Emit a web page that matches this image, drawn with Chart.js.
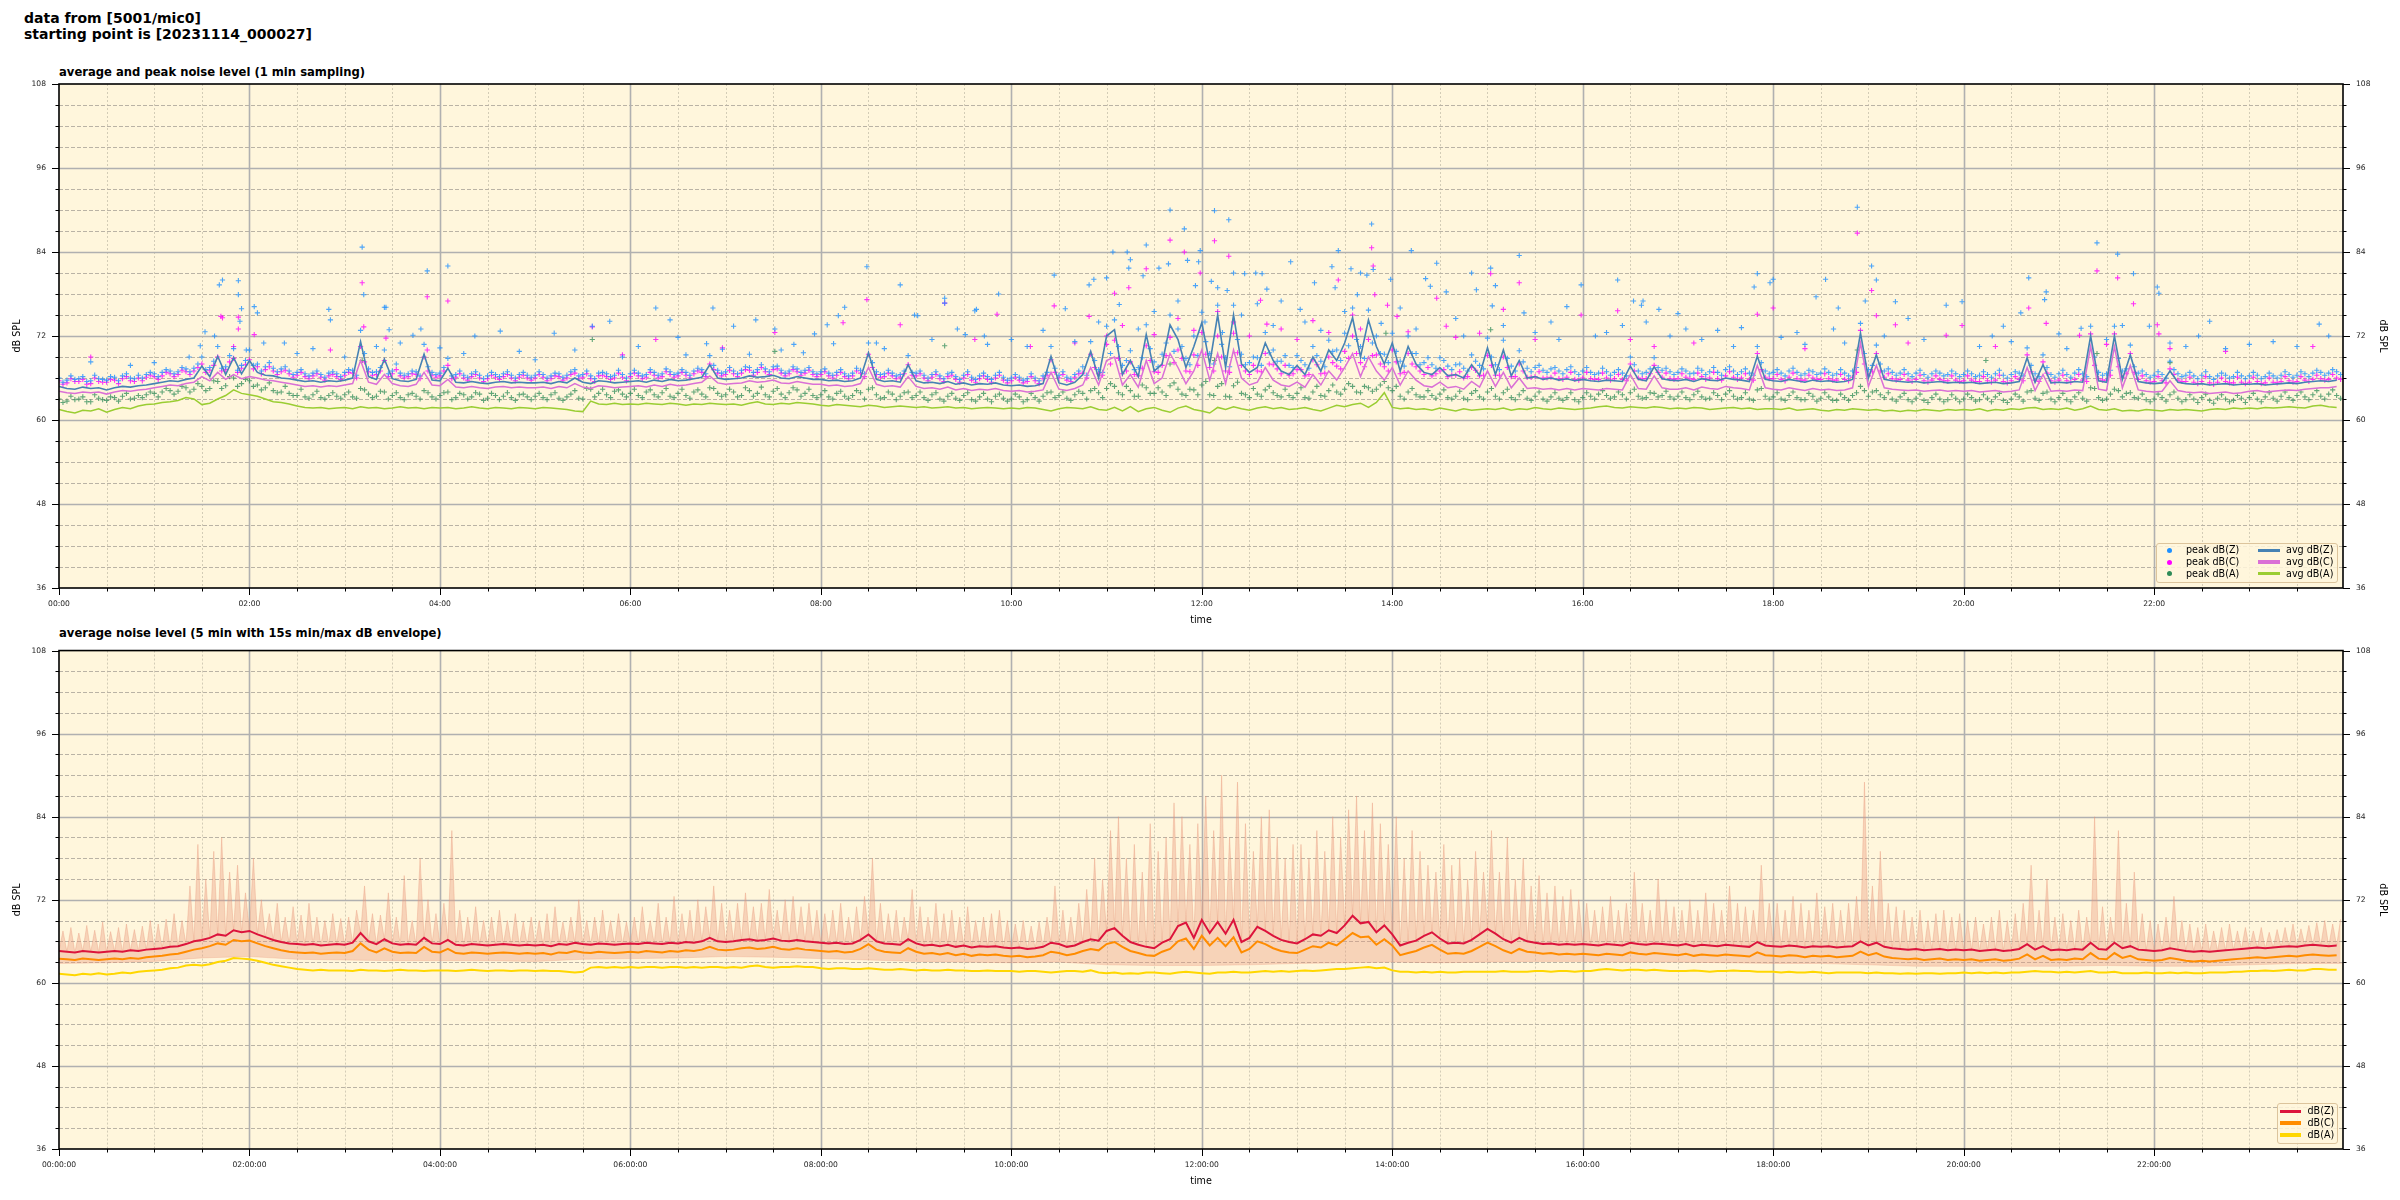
<!DOCTYPE html>
<html><head><meta charset="utf-8">
<script src="https://cdn.jsdelivr.net/npm/chart.js@4.4.0/dist/chart.umd.min.js"></script>
<style>
html,body{margin:0;padding:0;background:#fff;width:2400px;height:1200px;overflow:hidden;font-family:'DejaVu Sans',sans-serif;}
.t{position:absolute;white-space:nowrap;color:#000;}
#main{left:24px;top:10px;font-size:14px;font-weight:bold;line-height:16px;}
.sub{left:59px;font-size:11.6px;font-weight:bold;line-height:14px;}
canvas{position:absolute;left:0;}
.leg{position:absolute;border:1px solid #dcc49c;border-radius:3px;background:rgba(255,246,220,0.85);box-sizing:border-box;}
.lt{position:absolute;font-size:9.6px;line-height:12px;white-space:nowrap;color:#000;}
.dot{position:absolute;width:5px;height:5px;border-radius:50%;}
.ln{position:absolute;height:3.5px;}
</style></head>
<body>
<div class="t" id="main">data from [5001/mic0]<br>starting point is [20231114_000027]</div>
<div class="t sub" style="top:64.5px">average and peak noise level (1 min sampling)</div>
<div class="t sub" style="top:625.5px">average noise level (5 min with 15s min/max dB envelope)</div>
<canvas id="c1" width="2400" height="640" style="top:0;width:2400px;height:640px"></canvas>
<canvas id="c2" width="2400" height="560" style="top:640px;width:2400px;height:560px"></canvas>

<div class="leg" style="left:2156px;top:543px;width:182px;height:40px"></div>
<div class="dot" style="left:2166.5px;top:547.8px;background:#1e90ff"></div>
<div class="dot" style="left:2166.5px;top:559.5px;background:#ff00ff"></div>
<div class="dot" style="left:2166.5px;top:571.2px;background:#2e8b57"></div>
<div class="lt" style="left:2186px;top:544.3px">peak dB(Z)</div>
<div class="lt" style="left:2186px;top:556px">peak dB(C)</div>
<div class="lt" style="left:2186px;top:567.7px">peak dB(A)</div>
<div class="ln" style="left:2258px;top:548.5px;width:22px;background:#4682b4"></div>
<div class="ln" style="left:2258px;top:560.2px;width:22px;background:#da70d6"></div>
<div class="ln" style="left:2258px;top:571.9px;width:22px;background:#9acd32"></div>
<div class="lt" style="left:2286px;top:544.3px">avg dB(Z)</div>
<div class="lt" style="left:2286px;top:556px">avg dB(C)</div>
<div class="lt" style="left:2286px;top:567.7px">avg dB(A)</div>

<div class="leg" style="left:2277px;top:1103px;width:61px;height:41px"></div>
<div class="ln" style="left:2279.5px;top:1109.5px;width:21.5px;background:#dc143c"></div>
<div class="ln" style="left:2279.5px;top:1121.2px;width:21.5px;background:#ff8c00"></div>
<div class="ln" style="left:2279.5px;top:1133px;width:21.5px;background:#ffd700"></div>
<div class="lt" style="left:2307.5px;top:1105.3px">dB(Z)</div>
<div class="lt" style="left:2307.5px;top:1117px">dB(C)</div>
<div class="lt" style="left:2307.5px;top:1128.8px">dB(A)</div>

<script>
// ---------- tick labels ----------
const timeLabelsTop = ['00:00','02:00','04:00','06:00','08:00','10:00','12:00','14:00','16:00','18:00','20:00','22:00'];
const timeLabelsBottom = ['00:00:00','02:00:00','04:00:00','06:00:00','08:00:00','10:00:00','12:00:00','14:00:00','16:00:00','18:00:00','20:00:00','22:00:00'];
const dbTickLabels = [36,48,60,72,84,96,108];

// ---------- top chart: samples of the 1-min series every 5 min (dB SPL) ----------
const avgZ = [
64.8,64.5,64.4,64.7,64.5,64.6,64.3,64.6,64.8,64.7,64.9,65.0,
65.2,65.4,65.6,65.5,65.8,66.0,67.7,66.2,69.1,66.5,68.9,66.6,
68.5,66.8,66.4,66.3,66.0,65.9,65.7,65.5,65.6,65.4,65.6,65.5,
65.7,66.0,71.2,66.2,65.8,68.7,65.9,65.6,65.5,65.8,69.4,65.7,
65.6,67.4,65.4,65.3,65.5,65.3,65.2,65.4,65.5,65.3,65.4,65.3,
65.3,65.4,65.2,65.5,65.3,66.0,65.4,65.2,65.6,65.5,65.3,65.4,
65.5,65.6,65.4,65.7,65.5,65.8,65.6,65.7,65.9,66.1,67.9,66.0,
65.8,65.9,66.0,66.3,66.1,66.2,66.4,66.0,65.9,66.2,66.0,65.8,
65.8,65.6,65.7,65.5,65.6,66.0,69.6,65.8,65.5,65.6,65.4,67.9,
65.6,65.3,65.4,65.2,65.5,65.1,65.3,65.0,65.2,65.1,65.3,65.0,
64.9,65.0,64.8,64.9,65.2,69.1,65.3,65.0,65.4,66.5,69.8,66.0,
72.0,72.9,66.5,68.5,66.2,72.2,67.0,68.0,73.6,71.5,67.5,70.5,
73.9,68.0,75.0,67.5,75.0,68.0,66.8,67.5,71.0,68.5,67.0,66.5,
67.8,66.5,69.0,67.0,70.0,68.5,71.0,74.6,69.0,74.3,70.5,68.0,
71.0,67.0,70.5,68.0,66.8,66.5,67.5,66.3,66.5,66.0,67.9,66.4,
70.3,66.5,70.0,66.3,68.5,66.0,66.2,65.8,66.0,65.7,65.9,65.6,
65.8,65.6,65.5,65.7,65.6,65.5,67.7,65.8,65.6,67.6,65.9,65.7,
65.6,65.8,65.5,65.9,65.7,65.6,66.0,65.8,65.7,65.5,69.1,65.8,
65.6,65.5,65.8,65.6,65.4,65.7,65.5,65.6,65.4,65.5,65.8,72.4,
66.0,69.3,65.8,65.6,65.5,65.4,65.5,65.3,65.4,65.5,65.3,65.4,
65.3,65.4,65.2,65.3,65.4,65.2,65.3,65.5,68.9,65.4,67.9,65.3,
65.4,65.3,65.5,65.4,72.0,65.6,65.4,72.0,65.8,69.3,65.5,65.3,
65.2,65.3,67.0,65.4,65.2,65.1,65.2,65.0,65.1,65.2,65.0,65.1,
65.1,65.2,65.0,65.1,65.2,65.3,65.2,65.4,65.5,65.6,65.5,65.7];
const avgC = [
64.1,63.9,63.8,64.0,63.9,64.0,63.7,64.0,64.2,64.1,64.3,64.4,
64.6,64.8,65.0,64.9,65.2,65.4,66.2,65.6,66.8,65.8,66.5,65.9,
66.2,66.0,65.7,65.6,65.4,65.2,65.0,64.8,64.9,64.7,64.9,64.8,
65.0,65.2,68.5,65.4,65.1,66.5,65.2,64.9,64.8,65.1,66.8,65.0,
64.9,65.8,64.7,64.6,64.8,64.6,64.5,64.7,64.8,64.6,64.7,64.6,
64.6,64.7,64.5,64.8,64.6,65.2,64.7,64.5,64.9,64.8,64.6,64.7,
64.8,64.9,64.7,65.0,64.8,65.1,64.9,65.0,65.2,65.4,66.3,65.3,
65.1,65.2,65.3,65.6,65.4,65.5,65.7,65.3,65.2,65.5,65.3,65.1,
65.1,64.9,65.0,64.8,64.9,65.2,67.5,65.1,64.8,64.9,64.7,66.2,
64.8,64.5,64.6,64.4,64.7,64.3,64.5,64.2,64.4,64.3,64.5,64.2,
64.1,64.2,64.0,64.1,64.3,66.8,64.4,64.2,64.5,65.0,67.5,65.0,
68.5,69.0,65.0,66.5,64.7,68.5,65.2,66.0,69.5,67.5,65.2,67.0,
70.0,65.7,69.5,65.2,70.0,66.0,65.0,65.4,67.5,65.7,65.0,64.8,
65.4,64.7,66.5,65.0,67.0,65.7,67.5,69.5,66.2,69.0,67.0,65.7,
67.5,65.0,67.0,65.7,64.9,64.7,65.4,64.6,64.8,64.4,65.5,64.7,
67.0,64.8,66.8,64.6,66.0,64.5,64.6,64.4,64.5,64.3,64.5,64.3,
64.5,64.4,64.3,64.5,64.4,64.3,66.5,64.5,64.4,66.3,64.6,64.4,
64.4,64.6,64.3,64.7,64.5,64.4,64.8,64.6,64.5,64.3,67.8,64.6,
64.4,64.3,64.6,64.4,64.2,64.5,64.3,64.4,64.2,64.3,64.6,71.0,
64.8,67.8,64.6,64.4,64.3,64.2,64.3,64.1,64.2,64.3,64.1,64.2,
64.1,64.2,64.0,64.1,64.2,64.0,64.1,64.3,67.5,64.2,66.5,64.1,
64.2,64.1,64.3,64.2,70.5,64.4,64.2,70.5,64.6,67.8,64.3,64.1,
64.0,64.1,65.6,64.2,64.0,63.9,64.0,63.8,63.9,64.0,63.8,63.9,
64.1,64.2,64.0,64.1,64.2,64.3,64.2,64.4,64.5,64.6,64.6,64.8];
const avgA = [
61.5,61.2,61.0,61.4,61.3,61.6,61.1,61.5,61.8,61.6,62.0,62.2,
62.3,62.5,62.6,62.8,63.2,63.0,62.2,62.4,63.0,63.5,64.3,63.8,
63.6,63.4,63.0,62.6,62.5,62.3,62.0,61.8,61.7,61.8,61.6,61.7,
61.8,61.6,61.9,61.7,61.8,61.6,61.7,61.9,61.7,61.8,61.6,61.8,
61.7,61.8,61.6,61.7,61.9,61.7,61.6,61.8,61.7,61.6,61.8,61.7,
61.6,61.8,61.7,61.6,61.5,61.3,61.2,62.7,62.3,62.2,62.4,62.2,
62.3,62.2,62.4,62.3,62.2,62.4,62.3,62.1,62.3,62.2,62.4,62.3,
62.2,62.3,62.1,62.4,62.6,62.3,62.2,62.4,62.3,62.5,62.4,62.3,
62.1,62.0,62.2,62.1,62.0,61.9,62.1,62.0,61.8,61.9,62.0,61.9,
61.8,61.9,61.7,61.8,61.9,61.7,61.8,61.6,61.7,61.8,61.7,61.6,
61.7,61.6,61.8,61.7,61.5,61.3,61.6,61.8,61.7,61.6,61.9,61.5,
61.4,61.8,61.3,61.9,61.2,61.6,61.8,61.4,61.1,61.7,62.0,61.5,
61.3,61.0,61.8,61.5,61.9,61.6,61.4,61.7,61.9,61.6,61.8,61.5,
61.6,61.8,61.5,61.3,61.7,62.1,61.9,62.2,62.4,61.8,62.5,63.9,
61.8,61.6,61.7,61.5,61.6,61.4,61.7,61.5,61.3,61.6,61.4,61.5,
61.6,61.5,61.7,61.4,61.6,61.5,61.8,61.6,61.5,61.7,61.6,61.5,
61.6,61.7,61.9,62.0,61.8,61.7,61.9,61.8,61.7,61.9,61.8,61.6,
61.7,61.6,61.8,61.7,61.5,61.6,61.7,61.8,61.6,61.7,61.5,61.6,
61.6,61.5,61.7,61.4,61.5,61.6,61.4,61.3,61.5,61.4,61.6,61.5,
61.4,61.5,61.3,61.4,61.2,61.4,61.3,61.5,61.4,61.3,61.5,61.4,
61.5,61.4,61.6,61.3,61.5,61.4,61.6,61.5,61.7,61.8,61.5,61.6,
61.5,61.7,61.4,61.6,62.0,61.5,61.4,61.6,61.3,61.4,61.3,61.5,
61.4,61.3,61.5,61.4,61.5,61.4,61.3,61.5,61.6,61.5,61.7,61.6,
61.7,61.6,61.8,61.7,61.8,61.9,61.8,61.7,62.0,62.1,61.9,61.8];
// peak samples on the 5-min marks
const peakZ = [
66.0,65.7,65.8,66.2,65.6,65.9,65.7,66.1,66.3,66.0,66.4,66.5,
66.6,66.8,67.0,66.9,67.3,67.4,69.0,67.5,70.5,67.6,70.2,67.8,
70.0,68.0,67.6,67.4,67.3,67.0,66.8,66.6,66.7,66.5,66.7,66.6,
66.8,67.1,72.8,67.3,66.9,70.0,67.0,66.7,66.6,66.9,70.8,66.8,
66.7,68.8,66.5,66.4,66.6,66.4,66.3,66.5,66.6,66.4,66.5,66.4,
66.4,66.5,66.3,66.6,66.4,67.2,66.5,66.3,66.7,66.6,66.4,66.5,
66.6,66.7,66.5,66.8,66.6,66.9,66.7,66.8,67.0,67.2,69.2,67.1,
66.9,67.0,67.1,67.5,67.2,67.3,67.6,67.1,67.0,67.3,67.1,66.9,
66.9,66.7,66.8,66.6,66.7,67.1,71.0,66.9,66.6,66.7,66.5,69.2,
66.7,66.4,66.5,66.3,66.6,66.2,66.4,66.1,66.3,66.2,66.4,66.1,
66.0,66.1,65.9,66.0,66.3,70.5,66.4,66.1,66.5,67.6,71.2,67.2,
73.4,74.3,67.8,69.9,67.5,73.6,68.3,69.4,75.0,73.0,68.8,72.0,
75.4,69.5,76.4,68.9,76.4,69.4,68.2,68.9,72.5,70.0,68.4,67.8,
69.2,67.9,70.5,68.4,71.4,70.0,72.4,76.0,70.5,75.7,72.0,69.4,
72.4,68.4,72.0,69.5,68.2,67.9,68.9,67.7,67.9,67.4,69.3,67.8,
71.7,67.9,71.4,67.7,69.9,67.4,67.5,67.1,67.3,67.0,67.2,66.9,
67.0,66.8,66.7,66.9,66.8,66.7,69.0,67.0,66.8,68.9,67.1,66.9,
66.8,67.0,66.7,67.1,66.9,66.8,67.2,67.0,66.9,66.7,70.5,67.0,
66.8,66.7,67.0,66.8,66.6,66.9,66.7,66.8,66.6,66.7,67.0,73.8,
67.2,70.7,67.0,66.8,66.7,66.6,66.7,66.5,66.6,66.7,66.5,66.6,
66.5,66.6,66.4,66.5,66.6,66.4,66.5,66.7,70.3,66.6,69.3,66.5,
66.6,66.5,66.7,66.6,73.4,66.8,66.6,73.4,67.0,70.7,66.7,66.5,
66.4,66.5,68.4,66.6,66.4,66.3,66.4,66.2,66.3,66.4,66.2,66.3,
66.3,66.4,66.2,66.3,66.4,66.5,66.4,66.6,66.7,66.8,66.7,66.9];
const peakC = [
65.6,65.3,65.5,65.8,65.2,65.5,65.4,65.7,65.9,65.6,66.0,66.1,
66.2,66.3,66.6,66.5,66.9,67.0,68.0,67.1,69.0,67.2,68.8,67.4,
68.6,67.6,67.2,67.0,66.9,66.6,66.4,66.2,66.3,66.1,66.3,66.2,
66.4,66.7,70.5,66.9,66.5,68.5,66.6,66.3,66.2,66.5,69.0,66.4,
66.3,67.8,66.1,66.0,66.2,66.0,65.9,66.1,66.2,66.0,66.1,66.0,
66.0,66.1,65.9,66.2,66.0,66.7,66.1,65.9,66.3,66.2,66.0,66.1,
66.2,66.3,66.1,66.4,66.2,66.5,66.3,66.4,66.6,66.8,68.0,66.7,
66.5,66.6,66.7,67.1,66.8,66.9,67.2,66.7,66.6,66.9,66.7,66.5,
66.5,66.3,66.4,66.2,66.3,66.7,69.4,66.5,66.2,66.3,66.1,67.9,
66.3,66.0,66.1,65.9,66.2,65.8,66.0,65.7,65.9,65.8,66.0,65.7,
65.6,65.7,65.5,65.6,65.9,68.6,66.0,65.7,66.1,66.7,69.4,66.6,
70.8,71.4,66.6,68.3,66.3,70.6,66.9,67.8,71.8,70.0,67.0,69.3,
72.5,67.5,72.0,67.0,72.4,67.8,66.5,67.0,69.5,67.9,66.6,66.4,
67.2,66.3,68.6,66.6,69.0,67.7,69.8,72.0,68.2,71.5,69.3,67.6,
70.0,66.6,69.5,67.6,66.5,66.3,67.0,66.2,66.4,66.0,67.5,66.3,
69.2,66.4,69.0,66.2,68.0,66.1,66.2,66.0,66.1,65.9,66.1,65.8,
66.0,65.9,65.8,66.0,65.9,65.8,68.0,66.0,65.9,67.8,66.1,65.9,
65.9,66.1,65.8,66.2,66.0,65.9,66.3,66.1,66.0,65.8,69.5,66.1,
65.9,65.8,66.1,65.9,65.7,66.0,65.8,65.9,65.7,65.8,66.1,72.8,
66.3,69.5,66.1,65.9,65.8,65.7,65.8,65.6,65.7,65.8,65.6,65.7,
65.6,65.7,65.5,65.6,65.7,65.5,65.6,65.8,69.3,65.7,68.3,65.6,
65.7,65.6,65.8,65.7,72.3,65.9,65.7,72.3,66.1,69.5,65.8,65.6,
65.5,65.6,67.3,65.7,65.5,65.4,65.5,65.3,65.4,65.5,65.3,65.4,
65.4,65.5,65.3,65.4,65.5,65.6,65.5,65.7,65.8,65.9,65.8,66.0];
const peakA = [
63.0,62.7,62.9,63.3,62.6,63.1,62.8,63.2,63.4,63.0,63.5,63.6,
63.8,64.0,64.2,64.1,64.6,64.4,64.8,64.5,65.5,64.9,66.0,65.2,
65.6,65.0,64.6,64.2,64.0,63.8,63.5,63.3,63.6,63.2,63.5,63.4,
63.6,63.3,64.5,63.7,63.4,64.0,63.5,63.2,63.6,63.4,64.2,63.3,
63.5,64.0,63.2,63.6,63.3,63.7,63.1,63.5,63.4,63.2,63.6,63.3,
63.4,63.2,63.6,63.1,63.3,64.2,63.0,64.4,63.8,63.6,64.1,63.7,
63.8,63.5,64.0,63.6,63.9,63.4,63.8,63.5,64.0,63.7,64.6,63.8,
63.6,64.0,63.5,64.2,63.8,63.6,64.1,63.7,63.9,64.3,63.8,63.5,
63.6,63.3,63.8,63.4,63.5,63.9,64.4,63.6,63.2,63.7,63.4,64.0,
63.5,63.2,63.6,63.0,63.4,63.1,63.5,62.9,63.3,63.0,63.4,63.1,
63.0,63.3,62.9,63.2,63.4,64.0,63.5,63.1,63.6,63.8,64.2,63.9,
64.5,64.8,63.6,64.2,63.4,64.6,63.8,64.0,64.9,64.4,63.5,64.3,
65.0,63.6,64.8,63.4,64.9,63.8,63.2,63.7,64.3,63.9,63.3,63.5,
63.8,63.2,64.0,63.5,64.2,64.0,64.4,64.8,63.9,64.6,64.4,65.5,
64.2,63.4,64.0,63.6,63.3,63.5,63.7,63.2,63.4,63.1,63.8,63.3,
64.0,63.4,63.9,63.2,63.6,63.1,63.4,63.0,63.3,63.1,63.2,62.9,
63.2,63.4,63.7,63.5,63.3,63.6,63.9,63.4,63.2,63.8,63.5,63.3,
63.4,63.2,63.6,63.3,63.1,63.5,63.7,63.4,63.2,63.0,64.3,63.4,
63.3,63.0,63.5,63.2,62.9,63.4,63.1,63.3,62.8,63.2,63.5,64.8,
63.4,64.2,63.2,63.0,63.3,62.9,63.1,62.8,63.2,63.0,62.9,63.1,
63.0,63.2,62.9,63.1,63.3,62.8,63.0,63.3,64.0,63.1,63.8,63.0,
63.2,62.9,63.3,63.1,64.6,63.2,63.0,64.4,63.3,63.9,63.1,62.9,
63.0,63.2,63.6,63.1,62.9,63.0,63.2,62.8,63.1,63.0,62.8,63.1,
63.2,63.0,63.3,63.1,63.4,63.2,63.5,63.3,63.6,63.4,63.7,63.5];
// peak samples half-way between the 5-min marks
const peakZb = [
65.4,66.3,65.9,65.5,66.4,65.8,66.2,65.6,66.6,65.9,66.0,66.8,
66.2,67.2,66.6,67.5,66.9,68.0,67.2,68.4,67.4,69.2,67.1,68.5,
67.8,67.0,68.2,66.9,67.6,66.5,67.2,66.3,67.0,66.1,66.9,66.2,
67.2,66.4,69.5,66.8,67.5,66.6,68.0,66.4,67.0,66.3,67.6,66.5,
67.5,66.3,67.0,66.1,66.9,65.9,66.8,66.2,66.9,66.0,66.8,66.1,
66.9,66.0,66.7,66.1,66.9,66.3,67.0,65.9,66.8,66.2,67.1,66.0,
67.1,66.3,67.2,66.4,67.3,66.5,67.2,66.4,67.4,66.6,67.8,66.7,
67.5,66.6,67.6,66.8,67.9,66.9,67.7,66.7,67.6,66.8,67.5,66.6,
67.3,66.4,67.2,66.3,67.4,66.6,68.2,66.5,67.1,66.3,67.0,66.8,
67.0,66.0,66.9,65.9,66.8,65.8,66.9,65.8,66.7,65.8,66.8,65.7,
66.5,65.7,66.6,65.6,66.8,67.4,66.9,65.9,67.0,66.4,68.5,66.8,
69.5,70.5,68.5,67.2,68.9,70.2,67.6,71.0,69.8,70.5,67.9,69.2,
71.2,68.0,70.8,67.6,71.5,67.9,69.0,67.8,69.6,68.4,69.2,67.5,
68.5,67.4,69.2,67.6,69.8,68.5,70.6,71.5,68.8,71.0,69.5,68.2,
69.8,67.7,69.5,67.9,68.9,67.4,68.5,67.2,68.0,67.0,68.4,67.3,
69.0,67.2,68.8,67.0,68.3,66.9,67.8,66.8,67.5,66.6,67.6,66.5,
67.5,66.5,67.4,66.4,67.2,66.3,67.9,66.6,67.3,67.5,67.4,66.5,
67.3,66.6,67.4,66.5,67.5,66.4,67.6,66.5,67.3,66.4,68.2,66.6,
67.2,66.3,67.4,66.4,67.1,66.5,67.3,66.4,67.2,66.3,67.5,69.5,
67.8,68.0,67.3,66.4,67.2,66.2,67.1,66.1,67.0,66.3,67.0,66.2,
67.0,66.2,66.9,66.1,67.1,66.0,66.9,66.3,67.8,66.2,67.5,66.1,
67.1,66.1,67.2,66.2,69.0,66.4,67.1,68.8,67.3,67.6,67.0,66.1,
66.9,66.0,67.2,66.2,66.8,65.9,66.9,65.8,66.7,66.0,66.8,65.9,
66.8,65.9,66.7,66.0,66.9,66.1,66.9,66.2,67.1,66.4,67.2,66.5];
const peakCb = [
65.1,65.9,65.5,65.1,66.0,65.4,65.8,65.2,66.2,65.5,65.6,66.4,
65.8,66.8,66.2,67.1,66.5,67.5,66.8,67.8,67.0,68.3,66.8,67.9,
67.3,66.6,67.6,66.5,67.1,66.1,66.8,65.9,66.6,65.7,66.5,65.8,
66.8,66.0,68.3,66.4,67.0,66.2,67.2,66.0,66.6,65.9,67.0,66.1,
67.0,65.9,66.6,65.7,66.5,65.5,66.4,65.8,66.5,65.6,66.4,65.7,
66.5,65.6,66.3,65.7,66.5,65.9,66.6,65.5,66.4,65.8,66.7,65.6,
66.7,65.9,66.8,66.0,66.9,66.1,66.8,66.0,67.0,66.2,67.2,66.3,
67.1,66.2,67.2,66.4,67.5,66.5,67.3,66.3,67.2,66.4,67.1,66.2,
66.9,66.0,66.8,65.9,67.0,66.2,67.5,66.1,66.7,65.9,66.6,66.4,
66.6,65.6,66.5,65.5,66.4,65.4,66.5,65.4,66.3,65.4,66.4,65.3,
66.1,65.3,66.2,65.2,66.4,66.8,66.5,65.5,66.6,66.0,67.5,66.4,
68.0,68.8,67.0,66.5,67.4,68.5,66.8,69.2,68.2,68.8,66.9,67.8,
69.4,67.0,69.0,66.8,69.6,67.0,67.8,66.9,68.0,67.3,67.8,66.6,
67.2,66.5,67.9,66.7,68.2,67.3,68.8,69.5,67.6,69.2,68.0,67.0,
68.3,66.8,68.0,67.0,67.5,66.6,67.2,66.4,66.9,66.2,67.1,66.4,
67.8,66.4,67.5,66.2,67.0,66.1,66.9,66.0,66.7,65.8,66.8,65.7,
66.8,65.8,66.7,65.7,66.5,65.6,67.0,65.9,66.6,66.8,66.7,65.8,
66.6,65.9,66.7,65.8,66.8,65.7,66.9,65.8,66.6,65.7,67.2,65.9,
66.5,65.6,66.7,65.7,66.4,65.8,66.6,65.7,66.5,65.6,66.8,68.0,
66.9,67.0,66.6,65.7,66.5,65.5,66.4,65.4,66.3,65.6,66.3,65.5,
66.3,65.5,66.2,65.4,66.4,65.3,66.2,65.6,66.9,65.5,66.7,65.4,
66.4,65.4,66.5,65.5,67.8,65.7,66.4,67.6,66.6,66.8,66.3,65.4,
66.2,65.3,66.5,65.5,66.1,65.2,66.2,65.1,66.0,65.3,66.1,65.2,
66.1,65.2,66.0,65.3,66.2,65.4,66.2,65.5,66.4,65.7,66.5,65.8];
const peakAb = [
62.5,63.4,63.0,62.6,63.6,62.9,63.3,62.7,63.8,63.1,63.2,64.0,
63.3,64.5,63.7,64.8,64.0,65.2,64.2,65.6,64.5,66.2,64.8,65.8,
64.8,64.3,65.3,63.9,64.8,63.5,64.4,63.1,64.1,63.0,63.9,63.1,
64.0,63.1,64.3,63.2,64.1,63.0,63.9,62.9,63.8,63.0,63.9,63.0,
63.9,62.9,63.8,63.0,63.9,62.8,63.8,62.9,63.9,62.8,63.7,62.9,
63.8,62.9,63.9,62.8,63.7,63.1,64.5,63.3,64.4,63.2,64.3,63.3,
64.4,63.2,64.3,63.3,64.5,63.2,64.4,63.1,64.3,63.3,64.5,63.4,
64.4,63.3,64.6,63.4,64.7,63.3,64.5,63.2,64.6,63.4,64.4,63.2,
64.2,63.0,64.1,63.1,64.2,63.0,64.6,63.1,64.0,62.9,63.9,63.2,
64.0,62.8,63.9,62.7,63.8,62.8,63.9,62.7,63.8,62.6,63.7,62.7,
63.7,62.6,63.8,62.7,63.9,63.2,64.0,62.8,64.1,63.0,64.5,63.2,
65.2,63.9,64.8,63.4,65.0,63.8,64.6,63.5,65.3,63.7,64.4,63.6,
65.5,63.5,65.2,63.3,65.4,63.6,64.5,63.4,64.8,63.5,64.4,63.2,
64.6,63.1,64.8,63.4,65.0,63.7,65.2,64.0,64.8,64.1,65.0,64.6,
64.8,63.0,64.5,63.3,64.2,63.1,64.3,63.0,64.1,62.9,64.2,63.0,
64.5,63.0,64.4,62.9,64.2,62.8,64.0,62.7,63.9,62.8,63.9,62.6,
63.9,63.0,64.2,63.1,64.0,63.0,64.4,63.1,63.9,63.3,64.1,63.0,
64.0,62.9,64.1,63.0,63.9,62.9,64.2,63.0,63.9,62.8,64.5,63.0,
63.9,62.8,64.0,62.9,63.8,62.7,63.9,62.8,63.7,62.8,63.9,64.2,
64.0,63.6,63.9,62.7,63.8,62.6,63.7,62.5,63.7,62.6,63.6,62.6,
63.7,62.7,63.6,62.6,63.8,62.5,63.7,62.7,64.2,62.8,64.0,62.6,
63.8,62.6,63.9,62.7,64.5,62.8,63.7,64.2,63.8,63.2,63.7,62.6,
63.7,62.7,64.0,62.6,63.6,62.5,63.7,62.4,63.6,62.6,63.5,62.5,
63.8,62.6,63.9,62.7,64.0,62.8,64.0,62.9,64.2,63.0,64.3,63.1];
// isolated high peaks: [minute, dB, minute, dB, ...]
const peakZHigh = [101,79.3,103,80,113,79.9,113,77.9,115,75.9,123,76.2,125,75.3,92,72.6,98,72,89,70.6,114,74.1,118,70,129,71,142,71,170,75.8,171,74.3,191,84.7,192,77.9,205,76.1,206,76.1,208,72.9,223,72.1,228,73,232,81.3,245,82,262,72,278,72.7,312,72.4,336,73.4,347,74.1,376,76,385,74.3,412,76,425,73.4,439,74.3,451,73,476,72.3,484,73.6,390,71.8,408,70.9,418,70.1,435,69.4,463,70.8,469,69.6,488,70.9,20,68.3,45,67.8,60,68.2,82,69.0,150,69.5,160,70.2,180,69.0,200,70.5,215,71.0,240,70.3,255,69.5,290,69.8,300,68.6,325,70.0,355,69.0,365,70.5,395,69.3,455,70.0,
509,81.9,495,76.1,491,74.9,530,79.3,539,75,541,74.9,558,77.4,558,76.7,566,73,571,72.2,577,75.6,578,75.8,583,72,592,78,627,80.7,634,75.9,649,79.3,652,80.1,660,80.3,664,84,673,84,675,82.9,674,81.7,685,85,683,80.6,693,81.7,699,82.3,700,90,709,87.3,711,82.8,716,79.2,718,82.6,719,84.2,728,89.9,737,88.6,726,79.8,730,78.9,736,78.5,740,81,747,80.9,754,81,758,80.9,761,78.7,755,76.6,776,82.6,782,75.8,791,79.6,802,81.9,806,84.2,804,78.9,814,81.6,818,77.9,827,88,820,81,824,80.7,828,81.5,839,80.1,852,84.2,861,80.2,868,82.4,864,79.1,874,78.3,890,81,893,78.6,902,81.7,905,79.2,920,83.5,903,76.3,923,75.3,950,76.2,959,79.3,968,72,
655,74,668,76.5,680,73,690,75.5,705,77,722,74,733,72.5,745,75,765,73.5,770,77,785,74,795,72.8,810,75.5,833,73.8,845,76,855,73,880,74.5,885,72,910,73.5,930,72.5,940,74,945,71.5,600,71.5,610,70.5,620,72.8,640,71.2,515,71,520,70.2,550,71.5,585,70.8,
982,80,992,77,997,76.4,998,77,1008,75.8,1020,75.2,1070,80.9,1068,79,1078,79.6,1080,80.1,1107,77.6,1113,80.1,1121,76,1133,90.4,1142,82,1145,80,1138,77,1157,76.9,1189,76.4,1199,76.9,1241,80.3,1236,75.3,1252,78.3,1251,77.2,1284,85.3,1297,83.7,1307,80.9,1322,79,1323,78.1,1274,73.1,1317,73.4,1355,74.1,1424,73.7,1225,73.4,
975,72.5,985,73.5,1000,74,1015,72,1025,73,1035,71.5,1045,72.8,1055,70.5,1060,73.2,1085,71.8,1095,72.5,1100,70.8,1118,73,1125,71,1150,72,1165,74.5,1175,71.5,1210,70.5,1218,72,1230,71.2,1260,72.3,1265,70.2,1290,71.5,1300,73.5,1330,71,1340,70.5,1348,72,1365,70.2,1380,70.8,1395,71.2,1410,70.5,1430,72];
const peakCHigh = [102,74.8,103,74.6,113,74.7,113,73,123,72.2,171,70,191,79.6,192,73.3,206,71.7,232,77.6,245,77,336,73.3,376,71.5,418,70.3,451,72.5,355,69.3,20,69,110,70.5,232,70,
509,77.2,494,73.9,530,73.6,558,76.7,577,71.5,591,75.1,627,76.3,649,74.8,665,78.1,674,78.9,685,81.6,700,85.7,709,84,719,81,728,85.6,737,83.4,730,75.5,757,77.1,761,73.7,806,80,827,84.6,828,82,829,77.9,837,76.4,843,74.8,868,77.4,874,73.4,902,80.9,910,75.8,920,79.6,959,75,
660,72,670,73.5,690,72.2,705,74.5,715,72.8,740,74,750,72,770,73,780,71.5,790,74.2,800,72.5,815,75,820,73,850,72.6,880,71.8,895,72.4,930,71.5,612,70.5,640,71,
982,75.6,1070,75.1,1080,76,1133,86.7,1142,78.5,1145,74.9,1157,73.6,1189,72.1,1199,73.5,1241,76,1252,73.8,1284,81.3,1297,80.3,1307,76.6,1322,73.6,1323,72.3,1273,72.1,
990,71.5,1005,70.5,1030,71,1100,70.2,1165,71,1220,70.5,1290,70.8,1330,70.2,1365,69.8,1420,70.5];
const peakAHigh = [336,71.5,451,69.8,558,70.6,902,72.9,836,72.4,1214,68.5,1330,68.2,1284,69.5,1133,70.0,728,68.5,700,68.0,191,68.5];

// ---------- bottom chart: 5-min averages ----------
const avg5Z = [
64.6,64.5,64.4,64.6,64.5,64.4,64.5,64.6,64.5,64.7,64.6,64.8,
64.9,65.0,65.2,65.3,65.6,66.0,66.2,66.5,67.0,66.8,67.6,67.3,
67.5,67.0,66.6,66.2,65.9,65.7,65.6,65.5,65.6,65.4,65.5,65.6,
65.5,65.8,67.2,66.0,65.6,66.3,65.7,65.5,65.6,65.5,66.5,65.7,
65.6,66.2,65.5,65.4,65.6,65.5,65.4,65.5,65.6,65.5,65.4,65.5,
65.4,65.5,65.3,65.6,65.5,65.8,65.6,65.5,65.7,65.6,65.5,65.6,
65.7,65.6,65.8,65.7,65.6,65.8,65.7,65.9,65.8,66.0,66.5,66.0,
65.9,66.0,66.2,66.3,66.1,66.2,66.4,66.1,66.0,66.2,66.0,65.9,
65.8,65.7,65.8,65.6,65.7,66.2,67.0,66.0,65.7,65.6,65.5,66.3,
65.7,65.4,65.5,65.3,65.5,65.2,65.4,65.1,65.3,65.2,65.3,65.1,
65.0,65.1,64.9,65.0,65.2,65.8,65.6,65.2,65.4,65.9,66.3,66.1,
67.5,67.9,66.8,65.9,65.5,65.2,65.0,65.8,66.3,68.2,68.7,66.5,
69.1,67.2,68.8,67.1,69.1,65.9,66.5,68.1,67.5,66.8,66.2,65.9,
65.7,66.3,67.0,66.8,67.6,67.2,68.3,69.7,68.6,68.8,67.3,68.3,
67.0,65.4,65.8,66.1,66.8,67.3,66.4,65.7,65.8,65.7,66.2,67.0,
67.8,67.1,66.3,65.8,66.5,66.0,65.8,65.6,65.7,65.5,65.6,65.5,
65.6,65.5,65.4,65.6,65.5,65.4,65.8,65.6,65.5,65.7,65.6,65.5,
65.4,65.6,65.3,65.5,65.4,65.3,65.5,65.4,65.3,65.2,65.9,65.4,
65.3,65.2,65.4,65.3,65.1,65.3,65.2,65.3,65.1,65.2,65.3,66.0,
65.4,65.8,65.2,65.0,64.9,64.8,64.9,64.7,64.8,64.9,64.7,64.8,
64.7,64.8,64.6,64.7,64.8,64.6,64.7,64.9,65.6,64.8,65.3,64.7,
64.8,64.7,64.9,64.8,65.8,64.9,64.8,65.8,65.0,65.3,64.8,64.7,
64.6,64.7,65.0,64.8,64.6,64.5,64.6,64.5,64.6,64.7,64.8,64.9,
65.0,65.1,65.0,65.1,65.2,65.3,65.2,65.4,65.5,65.4,65.3,65.4];
const avg5C = [
63.5,63.4,63.3,63.5,63.4,63.3,63.4,63.5,63.4,63.6,63.5,63.7,
63.8,63.9,64.1,64.2,64.5,64.8,65.0,65.3,65.7,65.5,66.2,66.0,
66.1,65.7,65.3,65.0,64.7,64.5,64.4,64.3,64.4,64.2,64.3,64.4,
64.3,64.6,65.7,64.8,64.4,65.0,64.5,64.3,64.4,64.3,65.2,64.5,
64.4,64.9,64.3,64.2,64.4,64.3,64.2,64.3,64.4,64.3,64.2,64.3,
64.2,64.3,64.1,64.4,64.3,64.6,64.4,64.3,64.5,64.4,64.3,64.4,
64.5,64.4,64.6,64.5,64.4,64.6,64.5,64.7,64.6,64.8,65.2,64.8,
64.7,64.8,65.0,65.1,64.9,65.0,65.2,64.9,64.8,65.0,64.8,64.7,
64.6,64.5,64.6,64.4,64.5,64.9,65.6,64.8,64.5,64.4,64.3,65.0,
64.5,64.2,64.3,64.1,64.3,64.0,64.2,63.9,64.1,64.0,64.1,63.9,
63.8,63.9,63.7,63.8,64.0,64.5,64.3,64.0,64.2,64.6,64.9,64.7,
65.6,65.9,65.2,64.6,64.3,64.0,63.9,64.5,64.9,66.0,66.4,64.9,
66.8,65.4,66.5,65.3,66.6,64.4,64.9,66.0,65.6,65.0,64.6,64.4,
64.3,64.8,65.3,65.1,65.8,65.4,66.3,67.2,66.6,66.7,65.5,66.3,
65.4,64.0,64.3,64.6,65.1,65.5,64.8,64.2,64.3,64.2,64.6,65.2,
65.8,65.3,64.7,64.3,64.9,64.5,64.4,64.2,64.3,64.1,64.2,64.1,
64.2,64.1,64.0,64.2,64.1,64.0,64.4,64.2,64.1,64.3,64.2,64.1,
64.0,64.2,63.9,64.1,64.0,63.9,64.1,64.0,63.9,63.8,64.4,64.0,
63.9,63.8,64.0,63.9,63.7,63.9,63.8,63.9,63.7,63.8,63.9,64.5,
64.0,64.3,63.8,63.6,63.5,63.4,63.5,63.3,63.4,63.5,63.3,63.4,
63.3,63.4,63.2,63.3,63.4,63.2,63.3,63.5,64.1,63.4,63.9,63.3,
63.4,63.3,63.5,63.4,64.3,63.5,63.4,64.3,63.6,63.9,63.4,63.3,
63.2,63.3,63.6,63.4,63.2,63.1,63.2,63.1,63.2,63.3,63.4,63.5,
63.6,63.7,63.6,63.7,63.8,63.9,63.8,64.0,64.1,64.0,63.9,64.0];
const avg5A = [
61.3,61.2,61.1,61.3,61.2,61.4,61.2,61.3,61.5,61.4,61.6,61.7,
61.8,61.9,62.1,62.2,62.5,62.6,62.5,62.7,63.0,63.2,63.6,63.5,
63.4,63.2,62.9,62.6,62.4,62.2,62.0,61.9,61.8,61.9,61.8,61.8,
61.8,61.7,61.9,61.8,61.8,61.7,61.8,61.9,61.8,61.8,61.7,61.8,
61.8,61.8,61.7,61.8,61.9,61.8,61.7,61.8,61.8,61.7,61.8,61.8,
61.7,61.8,61.7,61.7,61.6,61.5,61.6,62.2,62.3,62.2,62.3,62.2,
62.3,62.2,62.3,62.3,62.2,62.3,62.3,62.2,62.3,62.2,62.3,62.3,
62.2,62.3,62.2,62.4,62.5,62.3,62.2,62.3,62.3,62.4,62.3,62.3,
62.1,62.0,62.1,62.1,62.0,62.0,62.1,62.0,61.9,61.9,62.0,61.9,
61.8,61.9,61.8,61.8,61.9,61.8,61.8,61.7,61.7,61.8,61.7,61.7,
61.7,61.6,61.7,61.7,61.6,61.5,61.6,61.7,61.7,61.6,61.8,61.5,
61.4,61.5,61.3,61.4,61.3,61.5,61.5,61.4,61.3,61.5,61.6,61.5,
61.4,61.3,61.5,61.5,61.6,61.5,61.5,61.6,61.7,61.6,61.7,61.6,
61.7,61.8,61.7,61.8,61.9,62.0,62.0,62.1,62.2,62.3,62.1,62.2,
61.8,61.6,61.6,61.5,61.6,61.5,61.6,61.5,61.5,61.6,61.6,61.6,
61.6,61.6,61.7,61.6,61.6,61.6,61.7,61.7,61.6,61.7,61.7,61.6,
61.7,61.7,61.9,62.0,61.9,61.8,61.9,61.9,61.8,61.9,61.8,61.7,
61.7,61.7,61.8,61.7,61.6,61.7,61.7,61.8,61.7,61.7,61.6,61.6,
61.6,61.5,61.6,61.5,61.5,61.6,61.5,61.4,61.5,61.5,61.5,61.5,
61.4,61.5,61.4,61.4,61.3,61.4,61.3,61.4,61.4,61.3,61.4,61.4,
61.5,61.4,61.5,61.4,61.5,61.4,61.5,61.5,61.6,61.7,61.6,61.6,
61.5,61.6,61.5,61.6,61.7,61.5,61.5,61.6,61.4,61.4,61.4,61.5,
61.4,61.4,61.5,61.4,61.5,61.4,61.4,61.5,61.5,61.5,61.6,61.6,
61.7,61.7,61.8,61.7,61.8,61.9,61.8,61.8,62.0,62.0,61.9,61.9];
// 15 s envelope: highest value in each 5-min slot
const envMax = [
67.5,68.0,67.2,68.3,67.6,68.8,67.4,68.0,68.5,67.7,68.2,69.0,
68.5,69.2,70.0,69.0,74.0,80.0,75.0,79.0,81.0,76.0,77.0,73.0,
78.0,72.0,70.0,71.5,69.5,71.0,69.8,71.5,69.5,69.0,70.0,69.3,
69.5,70.5,74.0,70.0,69.8,73.0,69.5,75.5,69.0,78.0,72.0,70.0,
71.5,82.0,70.5,69.5,71.0,69.0,69.5,70.5,69.0,70.0,68.8,69.5,
69.0,70.0,71.0,68.8,69.5,72.0,69.0,69.5,70.5,69.0,70.0,68.8,
69.5,71.0,69.0,71.5,69.5,72.5,70.0,70.5,72.0,71.0,74.0,71.5,
70.5,71.5,73.0,71.0,71.5,73.5,70.5,72.0,72.5,71.0,71.5,70.5,
70.0,70.5,71.5,69.5,71.0,72.5,78.0,71.5,70.0,70.5,69.5,73.5,
71.0,69.5,71.5,70.0,70.5,69.5,71.0,69.0,69.5,70.0,70.5,69.0,
68.5,69.0,68.2,68.8,69.5,74.0,70.5,69.5,71.5,73.5,78.0,75.0,
82.0,84.0,78.0,80.0,76.0,83.0,79.0,81.0,86.0,84.0,80.0,83.0,
87.0,82.0,90.0,81.0,89.0,83.0,79.0,84.0,85.0,81.0,78.0,80.0,
80.0,78.0,82.0,79.0,84.0,81.0,85.0,87.0,82.0,86.0,83.0,80.0,
84.0,78.0,82.0,79.0,77.0,76.0,80.0,77.0,78.0,75.0,79.0,76.0,
82.0,76.0,81.0,75.0,78.0,74.0,75.5,73.0,74.0,72.5,73.5,72.0,
71.5,70.5,71.0,72.5,70.5,71.5,76.0,71.5,70.5,75.0,72.0,71.0,
70.5,72.0,70.5,73.0,71.5,70.5,74.0,71.5,71.0,70.5,77.0,71.5,
71.5,70.5,72.5,71.5,70.5,73.0,71.0,71.5,70.5,71.5,72.5,89.0,
74.0,79.0,71.5,71.0,70.5,69.5,70.5,69.0,70.0,70.5,69.5,70.0,
69.0,69.5,68.5,69.5,70.5,69.0,70.0,71.5,77.0,70.5,75.0,69.5,
70.0,69.0,70.5,69.5,84.0,71.0,69.5,82.0,71.5,76.0,70.0,69.0,
68.5,69.5,72.5,69.0,68.5,68.0,68.5,67.5,68.0,68.5,67.5,68.0,
67.5,68.0,67.3,67.7,68.0,68.5,67.8,68.3,68.7,69.0,68.5,69.2];
// 15 s envelope: lowest value in each 30-min slot
const envMin = [62.8,62.9,63.1,63.6,63.8,63.4,63.3,63.2,63.2,63.2,63.1,63.4,63.5,63.6,63.8,63.7,63.5,63.3,63.1,63.0,62.9,63.0,62.6,62.5,
62.5,62.6,62.8,62.9,63.0,62.9,63.0,63.1,63.1,63.0,63.0,62.9,62.8,62.8,62.6,62.4,62.4,62.4,62.4,62.5,62.4,62.4,62.6,62.8,62.8];

// ---------- helpers ----------
const BG = '#fff6dc';
const series = (arr, step, off) => arr.map((v, i) => ({x: i * step + (off || 0), y: v}));
const pairs = flat => { const o = []; for (let i = 0; i < flat.length; i += 2) o.push({x: flat[i], y: flat[i + 1]}); return o; };
// envelope outline: the 5-min average marks the floor of each slot, the slot maximum its spike
const envelopeTop = [];
envMax.forEach((v, i) => { envelopeTop.push({x: i * 5, y: avg5Z[i]}); envelopeTop.push({x: i * 5 + 2.5, y: v}); });

const mplPlugin = {
  id: 'mpl',
  beforeDatasetsDraw(chart) {
    const {ctx, chartArea: a} = chart;
    const x = chart.scales.x, y = chart.scales.y;
    ctx.save();
    ctx.fillStyle = BG;
    ctx.fillRect(a.left, a.top, a.right - a.left, a.bottom - a.top);
    const hl = (v) => { const p = Math.round(y.getPixelForValue(v)) + 0.5; ctx.beginPath(); ctx.moveTo(a.left, p); ctx.lineTo(a.right, p); ctx.stroke(); };
    const vl = (m) => { const p = Math.round(x.getPixelForValue(m)) + 0.5; ctx.beginPath(); ctx.moveTo(p, a.top); ctx.lineTo(p, a.bottom); ctx.stroke(); };
    ctx.lineWidth = 1;
    ctx.strokeStyle = '#d3ccb6'; ctx.setLineDash([2, 2]);
    for (let m = 30; m < 1440; m += 30) if (m % 120) vl(m);
    ctx.strokeStyle = '#bab3a5'; ctx.setLineDash([4, 2]);
    for (let v = 39; v < 108; v += 3) if ((v - 36) % 12) hl(v);
    ctx.setLineDash([]); ctx.strokeStyle = '#b0b0b0'; ctx.lineWidth = 1.6;
    for (let m = 120; m < 1440; m += 120) vl(m);
    for (let v = 48; v < 108; v += 12) hl(v);
    ctx.restore();
  },
  afterDatasetsDraw(chart) {
    const {ctx, chartArea: a} = chart;
    const x = chart.scales.x, y = chart.scales.y;
    ctx.save();
    ctx.strokeStyle = '#000'; ctx.lineWidth = 1;
    for (let v = 36; v <= 108; v += 3) {
      const len = (v - 36) % 12 ? 3.5 : 7;
      const p = Math.round(y.getPixelForValue(v)) + 0.5;
      ctx.beginPath(); ctx.moveTo(a.left - len, p); ctx.lineTo(a.left, p);
      ctx.moveTo(a.right, p); ctx.lineTo(a.right + len, p); ctx.stroke();
    }
    for (let m = 0; m < 1440; m += 30) {
      const len = m % 120 ? 3.5 : 7;
      const p = Math.round(x.getPixelForValue(m)) + 0.5;
      ctx.beginPath(); ctx.moveTo(p, a.bottom); ctx.lineTo(p, a.bottom + len); ctx.stroke();
    }
    ctx.lineWidth = 1.6;
    ctx.strokeRect(a.left, a.top, a.right - a.left, a.bottom - a.top);
    ctx.restore();
  }
};

function scalesFor(labels, xh, xTitlePad) {
  const tickFont = {family: 'DejaVu Sans', size: 7.6};
  const titleFont = {family: 'DejaVu Sans', size: 9.6};
  const yTick = v => dbTickLabels.includes(v) ? String(v) : '';
  const yCommon = {
    type: 'linear', min: 36, max: 108,
    ticks: {stepSize: 3, autoSkip: false, padding: 6, color: '#222', font: tickFont, callback: yTick},
    grid: {display: true, drawOnChartArea: false, drawTicks: true, tickLength: 7, tickColor: 'rgba(0,0,0,0)'},
    border: {display: false},
    title: {display: true, text: 'dB SPL', color: '#000', font: titleFont, padding: {top: 12.2, bottom: 0}}
  };
  return {
    x: {
      type: 'linear', min: 0, max: 1439,
      ticks: {stepSize: 30, autoSkip: false, maxRotation: 0, padding: 4, color: '#222', font: tickFont,
        callback: v => (v % 120 === 0 && v < 1440) ? labels[v / 120] : ''},
      grid: {display: true, drawOnChartArea: false, drawTicks: true, tickLength: 7, tickColor: 'rgba(0,0,0,0)'},
      border: {display: false},
      title: {display: true, text: 'time', color: '#000', font: titleFont, padding: {top: 0, bottom: xTitlePad}},
      afterFit: s => { s.height = xh; }
    },
    y: Object.assign({}, yCommon, {position: 'left', afterFit: s => { s.width = 59; }}),
    y2: Object.assign({}, yCommon, {position: 'right', afterFit: s => { s.width = 57; }})
  };
}

Chart.defaults.font.family = 'DejaVu Sans';
Chart.defaults.animation = false;

const crossDs = (label, data, color, order) => ({
  label, data, showLine: false, order,
  pointStyle: 'cross', pointRadius: 2.6, pointBorderWidth: 1.1,
  pointBorderColor: color, pointBackgroundColor: color, borderColor: color, backgroundColor: color
});
const lineDs = (label, data, color, width, order) => ({
  label, data, order, borderColor: color, backgroundColor: color, borderWidth: width,
  pointRadius: 0, tension: 0, fill: false
});

new Chart(document.getElementById('c1'), {
  type: 'line',
  data: {datasets: [
    lineDs('avg dB(Z)', series(avgZ, 5), '#4682b4', 1.6, 0),
    lineDs('avg dB(C)', series(avgC, 5), '#da70d6', 1.5, 1),
    lineDs('avg dB(A)', series(avgA, 5), '#9acd32', 1.5, 2),
    crossDs('peak dB(Z)', series(peakZ, 5).concat(series(peakZb, 5, 2.5), pairs(peakZHigh)), 'rgba(30,144,255,0.8)', 3),
    crossDs('peak dB(C)', series(peakC, 5).concat(series(peakCb, 5, 2.5), pairs(peakCHigh)), 'rgba(255,0,255,0.8)', 4),
    crossDs('peak dB(A)', series(peakA, 5).concat(series(peakAb, 5, 2.5), pairs(peakAHigh)), 'rgba(46,139,87,0.75)', 5)
  ]},
  options: {
    responsive: false, devicePixelRatio: 1, animation: false,
    layout: {padding: {top: 84, left: 0, right: 0, bottom: 0}},
    plugins: {legend: {display: false}, tooltip: {enabled: false}},
    scales: scalesFor(timeLabelsTop, 52, 14.2)
  },
  plugins: [mplPlugin]
});

new Chart(document.getElementById('c2'), {
  type: 'line',
  data: {datasets: [
    lineDs('dB(Z)', series(avg5Z, 5), '#dc143c', 2, 0),
    lineDs('dB(C)', series(avg5C, 5), '#ff8c00', 2, 1),
    lineDs('dB(A)', series(avg5A, 5), '#ffd700', 2, 2),
    Object.assign(lineDs('envelope max', envelopeTop, 'rgba(233,150,122,0.45)', 0.8, 3), {fill: '+1', backgroundColor: 'rgba(233,150,122,0.36)'}),
    lineDs('envelope min', series(envMin, 30), 'rgba(233,150,122,0.35)', 0.8, 4)
  ]},
  options: {
    responsive: false, devicePixelRatio: 1, animation: false,
    layout: {padding: {top: 5, left: 0, right: 0, bottom: 0}},
    plugins: {legend: {display: false}, tooltip: {enabled: false}},
    scales: scalesFor(timeLabelsBottom, 51, 12.6)
  },
  plugins: [mplPlugin]
});
</script>
</body></html>
